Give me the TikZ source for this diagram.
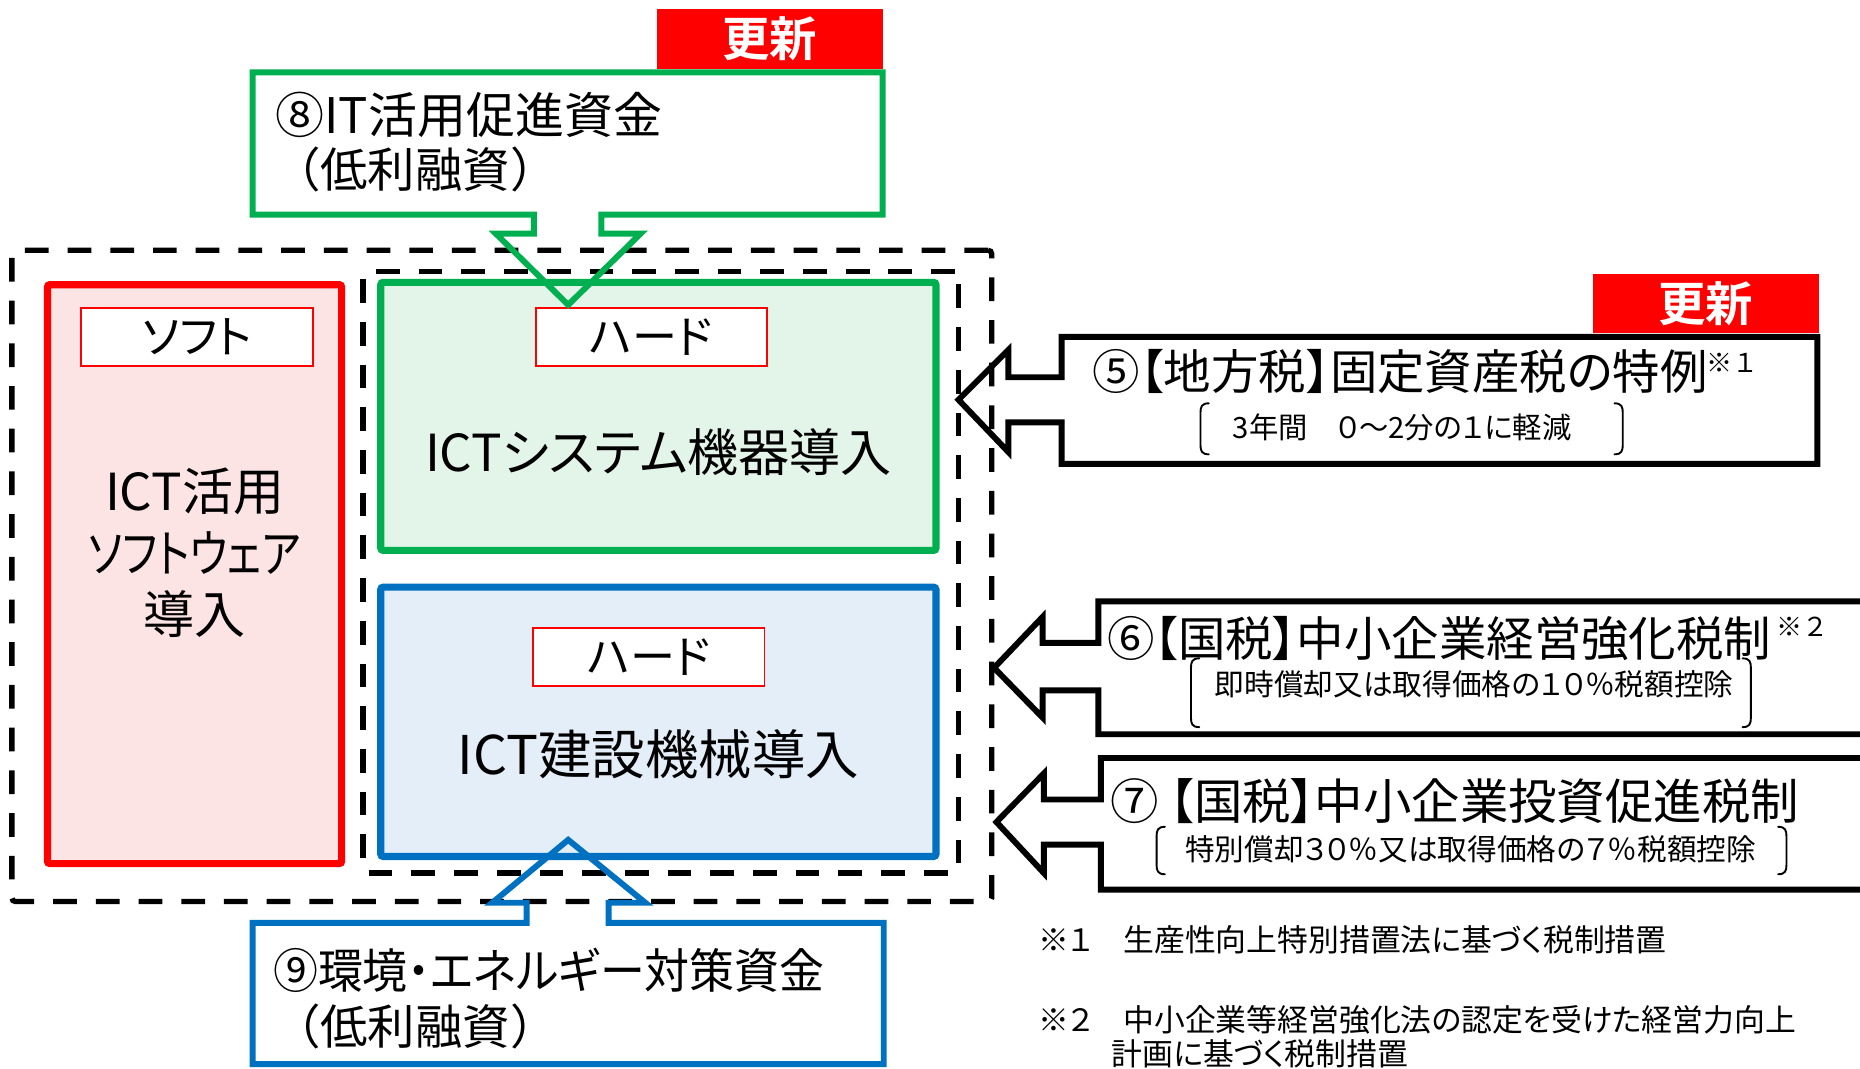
\documentclass[tikz,border=0pt]{standalone}
\usepackage{fontspec}
\setmainfont{Noto Sans CJK JP}[RawFeature=+palt]
\newfontfamily\jpfull{Noto Sans CJK JP}
\newfontfamily\jpbold{Noto Sans CJK JP Bold}[RawFeature=+palt]
\definecolor{cred}{HTML}{FF0000}
\definecolor{cgreen}{HTML}{00B050}
\definecolor{cblue}{HTML}{0070C0}
\definecolor{fpink}{HTML}{FDE4E4}
\definecolor{fgreen}{HTML}{E3F4E8}
\definecolor{fblue}{HTML}{E4EEF8}
\newcommand\fs[1]{\fontsize{#1}{#1}\selectfont}
\begin{document}
\begin{tikzpicture}[x=1pt,y=-1pt,
  dashbox/.style={draw=black, line width=4.5pt, dash pattern=on 20pt off 16pt, rounded corners=3pt, minimum width=#1},
  mainbox/.style={line width=6pt, rounded corners=2pt, inner sep=0pt},
  tag/.style={draw=cred, line width=1.6pt, fill=white, minimum width=195pt, minimum height=49pt, inner sep=0pt, font=\fs{38}},
  big/.style={inner sep=0pt, font=\fontsize{43}{52}\selectfont, align=center},
  head/.style={inner sep=0pt, anchor=west, font=\fs{40}},
  sub/.style={inner sep=0pt, font=\fs{25}},
  sup/.style={inner sep=0pt, anchor=west, font=\jpfull\fs{22}},
  note/.style={inner sep=0pt, anchor=west, font=\fs{26}},
  newtag/.style={fill=cred, text=white, inner sep=0pt, minimum width=190pt, minimum height=50pt, font=\jpbold\fs{40}},
  callout/.style={line width=5pt, line join=miter},
  brk/.style={line width=1.6pt, line cap=round}
]
\useasboundingbox (0,0) rectangle (1568,901);

% dashed groups
\node[dashbox=826pt, minimum height=549pt] (outer) at (423,485.5) {};
\node[dashbox=502pt, minimum height=507pt] (inner) at (557,482.5) {};

% soft box
\node[mainbox, draw=cred, fill=fpink, minimum width=248pt, minimum height=488pt] (soft) at (164,484) {};
\node[tag] (softtag) at (166,284) {ソフト};
\node[big] (softtxt) at (164,466) {ICT活用\\\scalebox{0.82}[1]{ソフトウェア}\\導入};

% green box
\node[mainbox, draw=cgreen, fill=fgreen, minimum width=468pt, minimum height=226pt] (sys) at (555,351) {};
\node[tag] (systag) at (549,284) {ハード};
\node[big] (systxt) at (555,381) {ICTシステム機器導入};

% blue box
\node[mainbox, draw=cblue, fill=fblue, minimum width=468pt, minimum height=227pt] (con) at (555,608.5) {};
\node[tag] (contag) at (547,554) {ハード};
\node[big, font=\fs{45}] (contxt) at (555,636) {ICT建設機械導入};

% callout 8 (green, top)
\node[newtag] (new1) at (649,33) {更新};
\draw[callout, draw=cgreen] (213,61) -- (744,61) -- (744,181) -- (507,181) -- (507,197) -- (540,197)
  -- (479,257) -- (418,197) -- (450,197) -- (450,181) -- (213,181) -- cycle;
\node[head, font=\fs{41.3}] (t8a) at (232,97) {⑧IT活用促進資金};
\node[head, font=\jpfull\fs{40}] (t8b) at (230,143) {（低利融資）};

% callout 9 (blue, bottom)
\draw[callout, draw=cblue] (213,778) -- (444,778) -- (444,761) -- (415,761) -- (479,708) -- (544,761)
  -- (513,761) -- (513,778) -- (745,778) -- (745,897) -- (213,897) -- cycle;
\node[head] (t9a) at (230,818) {\scalebox{0.947}[1]{⑨環境・エネルギー対策資金}};
\node[head, font=\jpfull\fs{40}] (t9b) at (230,865) {（低利融資）};

% callout 5
\node[newtag] (new2) at (1438,256) {更新};
\draw[callout] (895,284) -- (1532,284) -- (1532,391) -- (895,391) -- (895,356) -- (850,356) -- (850,381)
  -- (808,337) -- (850,295) -- (850,318) -- (895,318) -- cycle;
\node[head] (t5) at (921,313) {⑤【地方税】固定資産税の特例};
\node[sup] (s5) at (1438,306) {※１};
\node[sub, font=\fs{24.7}] (t5s) at (1182,360) {3年間　０～2分の１に軽減};
\draw[brk] (1019,340) .. controls (1013,340) and (1012,343) .. (1012,348) -- (1012,375) .. controls (1012,380) and (1013,383) .. (1019,383);
\draw[brk] (1361,340) .. controls (1367,340) and (1368,343) .. (1368,348) -- (1368,375) .. controls (1368,380) and (1367,383) .. (1361,383);

% callout 6
\draw[callout] (1580,507) -- (926,507) -- (926,542) -- (879,542) -- (879,520) -- (838,563) -- (879,605)
  -- (879,582) -- (926,582) -- (926,619) -- (1580,619);
\node[head] (t6) at (933,538) {⑥【国税】中小企業経営強化税制};
\node[sup] (s6) at (1497,528) {※２};
\node[sub, anchor=west] (t6s) at (1024,577) {即時償却又は取得価格の１０％税額控除};
\draw[brk] (1011,555) .. controls (1005,555) and (1004,558) .. (1004,563) -- (1004,605) .. controls (1004,610) and (1005,613) .. (1011,613);
\draw[brk] (1469,555) .. controls (1475,555) and (1476,558) .. (1476,563) -- (1476,605) .. controls (1476,610) and (1475,613) .. (1469,613);

% callout 7
\draw[callout] (1580,639) -- (928,639) -- (928,674) -- (880,674) -- (880,652) -- (840,693) -- (880,736)
  -- (880,712) -- (928,712) -- (928,750) -- (1580,750);
\node[head, font=\fs{40.8}] (t7) at (936,675) {⑦ 【国税】中小企業投資促進税制};
\node[sub, anchor=west] (t7s) at (999,716) {特別償却３０％又は取得価格の７％税額控除};
\draw[brk] (982,697) .. controls (976,697) and (975,700) .. (975,705) -- (975,729) .. controls (975,734) and (976,737) .. (982,737);
\draw[brk] (1499,697) .. controls (1505,697) and (1506,700) .. (1506,705) -- (1506,729) .. controls (1506,734) and (1505,737) .. (1499,737);

% footnotes
\node[note] (n1) at (875,792) {※１　生産性向上特別措置法に基づく税制措置};
\node[note] (n2) at (875,860) {※２　中小企業等経営強化法の認定を受けた経営力向上};
\node[note] (n3) at (937,888) {計画に基づく税制措置};
\end{tikzpicture}
\end{document}
